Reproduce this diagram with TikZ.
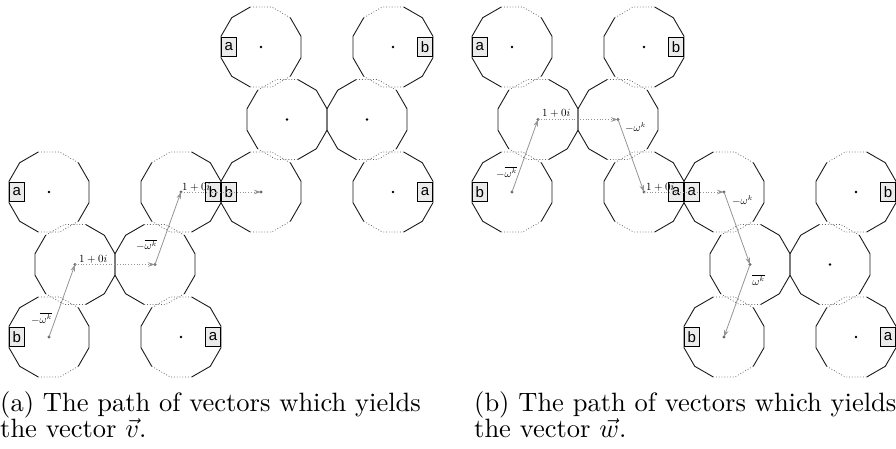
\documentclass[tikz,border=0pt]{standalone}
\usepackage{graphicx}
\usepackage{fontspec}
\newfontfamily\boxfont{Liberation Sans}
\usetikzlibrary{arrows.meta,calc}
\def\Rr{41.41}
\newcommand{\captionblock}[2]{\scalebox{2.65}{\fontsize{10}{12}\selectfont\renewcommand{\arraystretch}{0.8175}\begin{tabular}[t]{@{}l@{}}#1\\#2\end{tabular}}}
\tikzset{
  soledge/.style={draw=black!90, line width=0.9pt, line join=round},
  dotedge/.style={draw=black!60, line width=0.8pt, dotted},
  lbox/.style={draw=black, line width=0.8pt, fill=black!8, minimum width=15pt, minimum height=19.5pt, inner sep=0pt, font=\boxfont\fontsize{15}{15}\selectfont},
  vecarrow/.style={draw=black!42, line width=0.8pt, -{Stealth[length=7pt,width=4.5pt]}},
  unitarrow/.style={vecarrow, dotted},
  vlabel/.style={inner sep=0pt, font=\fontsize{10.5}{12}\selectfont},
  captext/.style={inner sep=0pt, anchor=base west},
  cdot/.style={fill=black},
  vdot/.style={fill=black!60}
}
\newcommand{\dgR}[1]{%
\begin{scope}[shift={(#1)}]
 \draw[dotedge] (45:\Rr) -- (75:\Rr) -- (105:\Rr);
 \draw[dotedge] (255:\Rr) -- (285:\Rr) -- (315:\Rr);
 \draw[soledge] (105:\Rr) -- (135:\Rr) -- (165:\Rr) -- (195:\Rr) -- (225:\Rr) -- (255:\Rr);
 \draw[soledge] (315:\Rr) -- (345:\Rr) -- (15:\Rr) -- (45:\Rr);
\end{scope}}
\newcommand{\dgL}[1]{%
\begin{scope}[shift={(#1)}]
 \draw[dotedge] (75:\Rr) -- (105:\Rr) -- (135:\Rr);
 \draw[dotedge] (225:\Rr) -- (255:\Rr) -- (285:\Rr);
 \draw[soledge] (135:\Rr) -- (165:\Rr) -- (195:\Rr) -- (225:\Rr);
 \draw[soledge] (285:\Rr) -- (315:\Rr) -- (345:\Rr) -- (15:\Rr) -- (45:\Rr) -- (75:\Rr);
\end{scope}}
\begin{document}
\begin{tikzpicture}[x=1pt,y=1pt]
\useasboundingbox (0,0) rectangle (896,-449);
% ---------- left figure centres
\coordinate (P1) at (49,-192);
\coordinate (P2) at (49,-337);
\coordinate (P3) at (75,-264.5);
\coordinate (P4) at (155,-264.5);
\coordinate (P5) at (181,-192);
\coordinate (P6) at (181,-337);
\coordinate (P7) at (261,-47);
\coordinate (P8) at (261,-192);
\coordinate (P9) at (287,-119.5);
\coordinate (P10) at (367,-119.5);
\coordinate (P11) at (393,-47);
\coordinate (P12) at (393,-192);
% ---------- right figure centres
\coordinate (Q1) at (512,-47);
\coordinate (Q2) at (644,-47);
\coordinate (Q3) at (538,-119.5);
\coordinate (Q4) at (618,-119.5);
\coordinate (Q5) at (512,-192);
\coordinate (Q6) at (644,-192);
\coordinate (Q7) at (724,-192);
\coordinate (Q8) at (856,-192);
\coordinate (Q9) at (750,-264.5);
\coordinate (Q10) at (830,-264.5);
\coordinate (Q11) at (724,-337);
\coordinate (Q12) at (856,-337);
% ---------- dodecagons
\dgR{P1}\dgR{P2}\dgL{P3}\dgR{P4}\dgL{P5}\dgL{P6}
\dgR{P7}\dgR{P8}\dgL{P9}\dgR{P10}\dgL{P11}\dgL{P12}
\dgR{Q1}\dgL{Q2}\dgL{Q3}\dgR{Q4}\dgR{Q5}\dgL{Q6}
\dgR{Q7}\dgL{Q8}\dgL{Q9}\dgR{Q10}\dgR{Q11}\dgL{Q12}
% ---------- edge boxes
\node[lbox, anchor=west] (bP1) at ($(P1)+(-40,0)$) {a};
\node[lbox, anchor=west] (bP2) at ($(P2)+(-40,0)$) {b};
\node[lbox, anchor=east] (bP5) at ($(P5)+(40,0)$) {b};
\node[lbox, anchor=east] (bP6) at ($(P6)+(40,0)$) {a};
\node[lbox, anchor=west] (bP7) at ($(P7)+(-40,0)$) {a};
\node[lbox, anchor=west] (bP8) at ($(P8)+(-40,0)$) {b};
\node[lbox, anchor=east] (bP11) at ($(P11)+(40,0)$) {b};
\node[lbox, anchor=east] (bP12) at ($(P12)+(40,0)$) {a};
\node[lbox, anchor=west] (bQ1) at ($(Q1)+(-40,0)$) {a};
\node[lbox, anchor=east] (bQ2) at ($(Q2)+(40,0)$) {b};
\node[lbox, anchor=west] (bQ5) at ($(Q5)+(-40,0)$) {b};
\node[lbox, anchor=east] (bQ6) at ($(Q6)+(40,0)$) {a};
\node[lbox, anchor=west] (bQ7) at ($(Q7)+(-40,0)$) {a};
\node[lbox, anchor=east] (bQ8) at ($(Q8)+(40,0)$) {b};
\node[lbox, anchor=west] (bQ11) at ($(Q11)+(-40,0)$) {b};
\node[lbox, anchor=east] (bQ12) at ($(Q12)+(40,0)$) {a};
% ---------- centre dots
\foreach \c in {P1,P6,P7,P9,P10,P11,P12,Q1,Q2,Q8,Q10,Q12}
  \fill[cdot] (\c) circle (1.4);
\foreach \c in {P2,P3,P4,P5,P8,Q3,Q4,Q5,Q6,Q7,Q9,Q11}
  \fill[vdot] (\c) circle (1.6);
% ---------- vector path (a)
\draw[vecarrow] (P2) -- (P3);
\draw[unitarrow] (P3) -- (P4);
\draw[vecarrow] (P4) -- (P5);
\draw[unitarrow] (P5) -- (P8);
\node[vlabel] (la1) at (41.5,-318.5) {$-\overline{\omega^k}$};
\node[vlabel, anchor=base west] (la2) at (79,-262) {$1+0i$};
\node[vlabel] (la3) at (146.5,-245) {$-\overline{\omega^k}$};
\node[vlabel, anchor=base west] (la4) at (182,-190) {$1+0i$};
% ---------- vector path (b)
\draw[vecarrow] (Q5) -- (Q3);
\draw[unitarrow] (Q3) -- (Q4);
\draw[vecarrow] (Q4) -- (Q6);
\draw[unitarrow] (Q6) -- (Q7);
\draw[vecarrow] (Q7) -- (Q9);
\draw[vecarrow] (Q9) -- (Q11);
\node[vlabel] (lb1) at (506.5,-172.5) {$-\overline{\omega^k}$};
\node[vlabel, anchor=base west] (lb2) at (542,-117) {$1+0i$};
\node[vlabel] (lb3) at (635.5,-128) {$-\omega^k$};
\node[vlabel, anchor=base west] (lb4) at (646,-190) {$1+0i$};
\node[vlabel] (lb5) at (742.5,-201) {$-\omega^k$};
\node[vlabel] (lb6) at (758.5,-280) {$\overline{\omega^k}$};
% ---------- captions
\node[captext] (capa) at (0,-411) {\captionblock{(a) The path of vectors which yields}{the vector $\vec{v}$.}};
\node[captext] (capb) at (474,-411) {\captionblock{(b) The path of vectors which yields}{the vector $\vec{w}$.}};
\end{tikzpicture}
\end{document}
